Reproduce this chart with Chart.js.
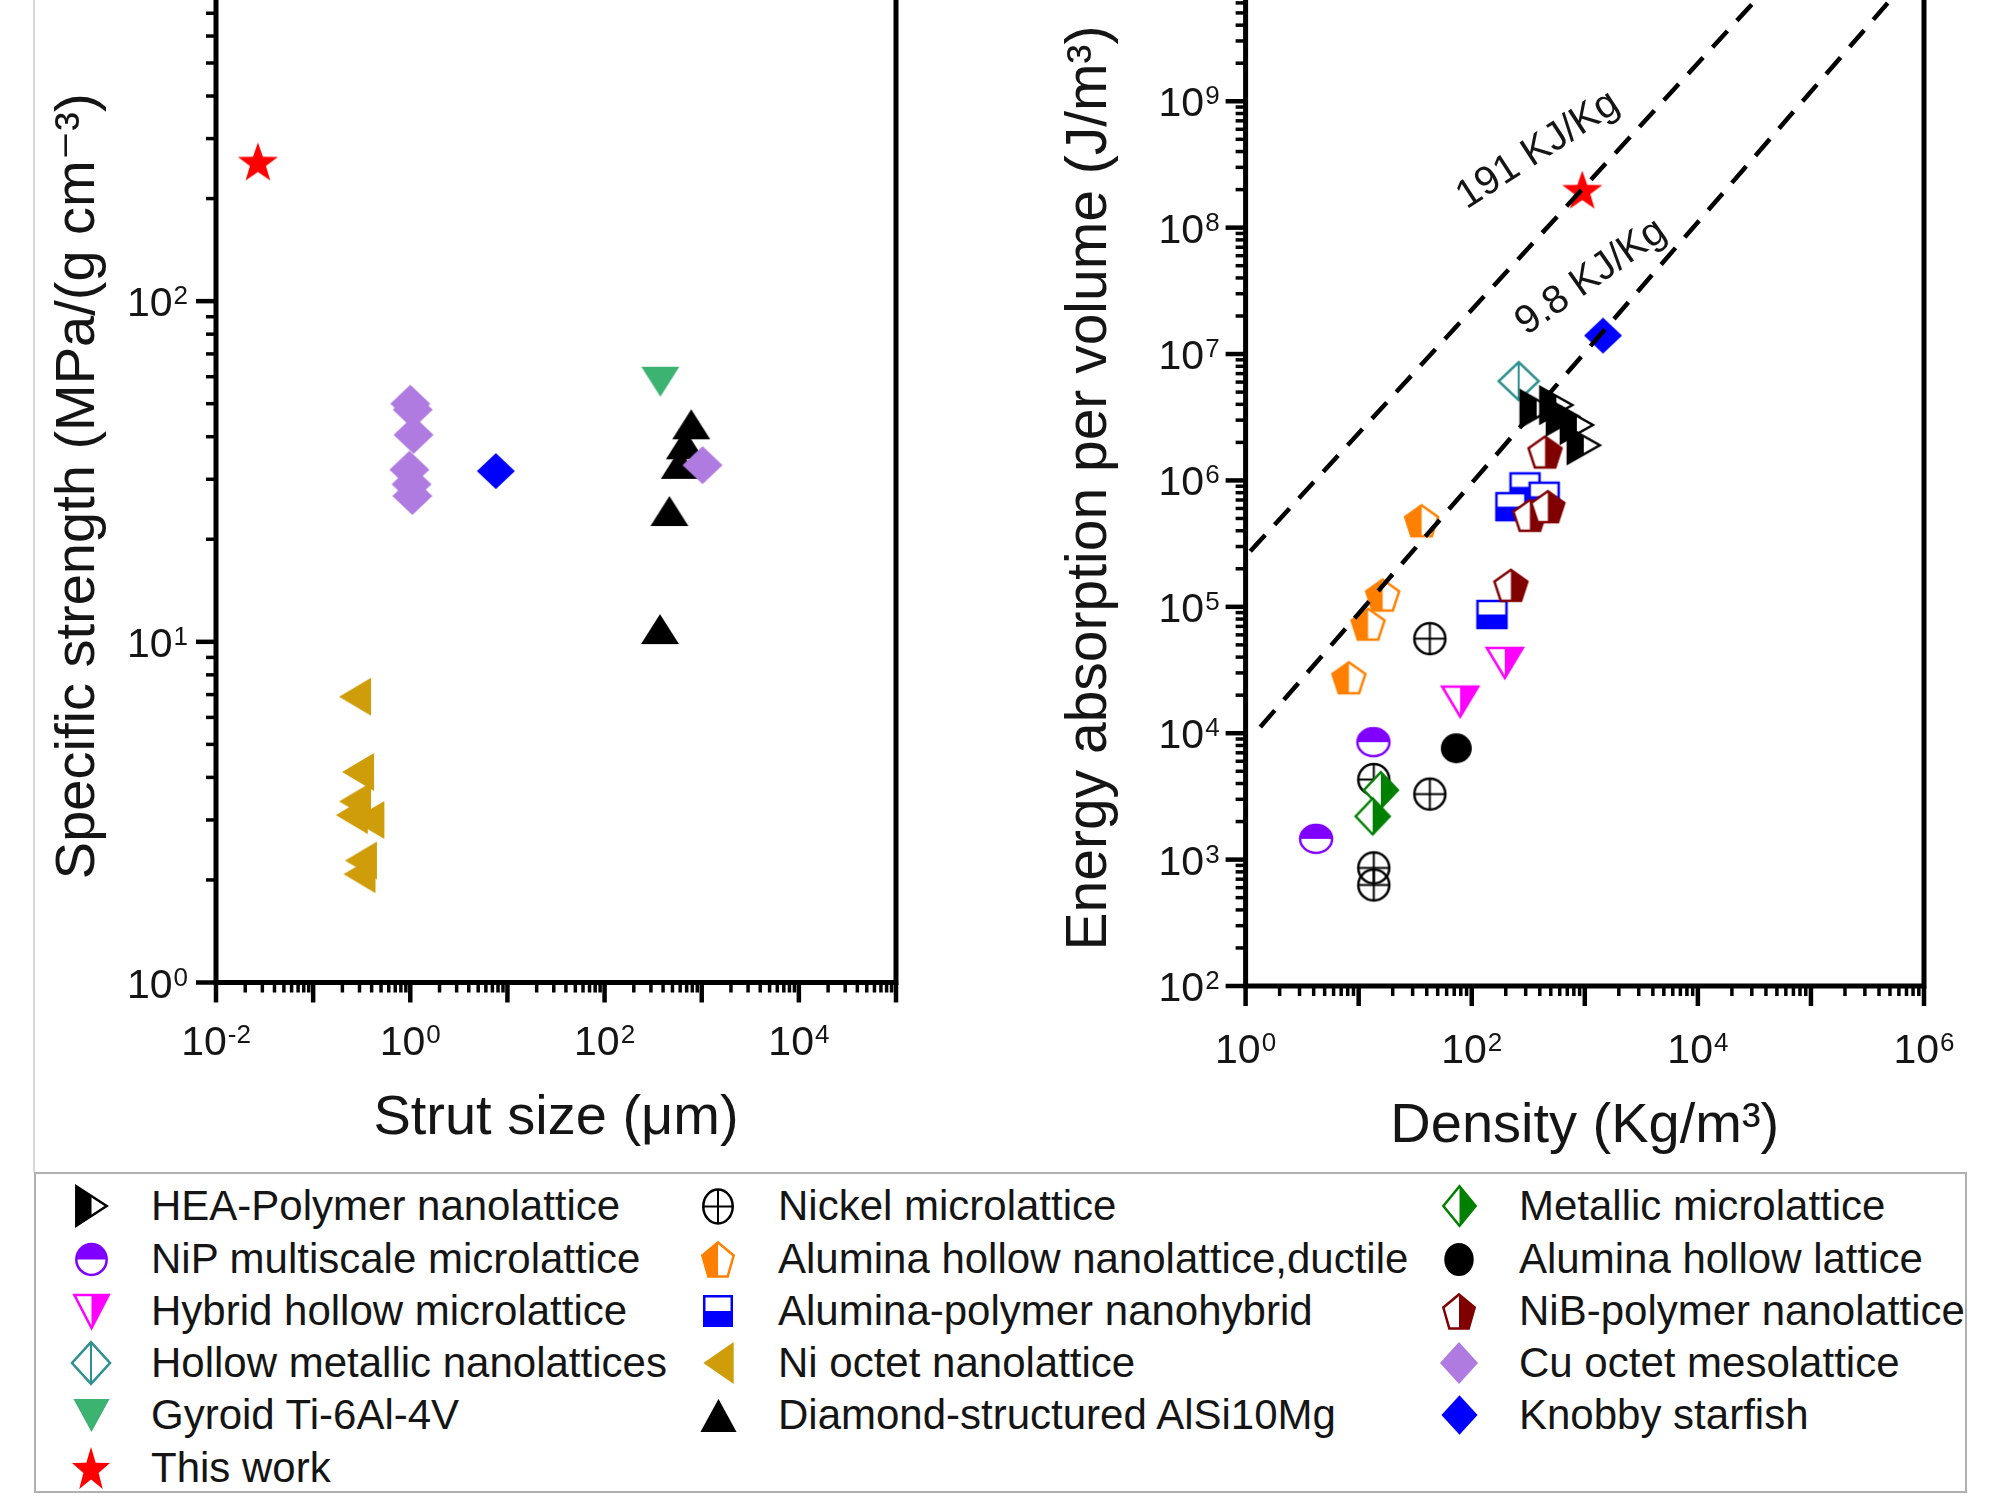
<!DOCTYPE html>
<html>
<head>
<meta charset="utf-8">
<script src="https://cdn.jsdelivr.net/npm/chart.js@4.4.1/dist/chart.umd.min.js"></script>
<style>
  body { margin: 0; width: 1993px; height: 1498px; background: #fff; position: relative; overflow: hidden;
         font-family: "Liberation Sans", Arial, sans-serif; }
  canvas.panel { position: absolute; top: -10px; }
  #edge { position: absolute; left: 33px; top: 0; height: 1172px; border-left: 2px solid #d8d8d8; }
  #legend { position: absolute; left: 34px; top: 1172px; width: 1933px; height: 321px; box-sizing: border-box;
            border: 2px solid #b0b0b0; background: #fff; }
  .lg-item { position: absolute; font-size: 42px; line-height: 52px; height: 52px; color: #151515; white-space: nowrap; }
  .lg-item canvas { position: absolute; }
</style>
</head>
<body>
<div id="edge"></div>
<canvas id="strut" class="panel" width="960" height="1170" style="left:0"></canvas>
<canvas id="energy" class="panel" width="1033" height="1170" style="left:960px"></canvas>
<div id="legend"></div>
<script>
// ---- left panel: specific strength vs strut size ----
const thisWorkStrut = [0.027], thisWorkStrength = [257];
const cuOctetStrut = [1.06, 1.0, 1.08, 0.98, 1.03, 1.05, 1020];
const cuOctetStrength = [48, 50, 40.5, 32, 29, 26.8, 33];
const knobbyStrut = [7.6], knobbyStrength = [31.7];
const gyroidStrut = [375], gyroidStrength = [58];
const diamondAlStrut = [780, 670, 595, 465, 372];
const diamondAlStrength = [43.5, 38, 33.3, 24.2, 10.9];
const niOctetStrut = [0.27, 0.29, 0.27, 0.25, 0.37, 0.31, 0.30];
const niOctetStrength = [6.9, 4.15, 3.4, 3.1, 3.0, 2.28, 2.08];

// ---- right panel: energy absorption vs density ----
const thisWorkDensity = [950], thisWorkEnergy = [2.0e8];
const knobbyDensity = [1450], knobbyEnergy = [1.4e7];
const hollowMetDensity = [260], hollowMetEnergy = [6.1e6];
const heaDensity = [375, 560, 640, 850, 980];
const heaEnergy = [3.7e6, 3.95e6, 3.2e6, 2.75e6, 1.9e6];
const nibDensity = [445, 327, 471, 222];
const nibEnergy = [1.68e6, 5.3e5, 6.2e5, 1.48e5];
const alPolymerDensity = [296, 222, 437, 151];
const alPolymerEnergy = [8.9e5, 6.2e5, 7.5e5, 8.7e4];
const alHollowNanoDensity = [36, 16.3, 12.1, 8.2];
const alHollowNanoEnergy = [4.8e5, 1.24e5, 7.3e4, 2.75e4];
const nickelDensity = [42.6, 13.6, 42.6, 13.6, 13.6];
const nickelEnergy = [5.6e4, 4.3e3, 3.3e3, 860, 630];
const hybridDensity = [196, 79], hybridEnergy = [3.6e4, 1.78e4];
const alHollowLatDensity = [73], alHollowLatEnergy = [7.6e3];
const nipDensity = [13.5, 4.2], nipEnergy = [8.5e3, 1.46e3];
const metallicDensity = [15.7, 13.3], metallicEnergy = [3.55e3, 2.2e3];

// specific energy guide lines (end points)
const guide191Density = [1.1, 5.2e4], guide191Energy = [2.75e5, 1e10];
const guide98Density = [1.35, 7.85e5], guide98Energy = [1.12e4, 1e10];
const guideLabels = ['191 KJ/Kg', '9.8 KJ/Kg'];

// tick labels (powers of ten that carry a label)
const strutTickExps = [-2, 0, 2, 4];
const strengthTickExps = [0, 1, 2];
const densityTickExps = [0, 2, 4, 6];
const energyTickExps = [2, 3, 4, 5, 6, 7, 8, 9];

const FONT = '"Liberation Sans", Arial, "DejaVu Sans", sans-serif';

// marker shapes, normalised to a [-1,1] box
function polygon(n, inner) {
  const count = inner === 1 ? n : n * 2, pts = [];
  for (let i = 0; i < count; i++) {
    const r = (inner !== 1 && i % 2) ? inner : 1;
    const a = -Math.PI / 2 + i * 2 * Math.PI / count;
    pts.push([r * Math.cos(a), r * Math.sin(a)]);
  }
  const xs = pts.map(p => p[0]), ys = pts.map(p => p[1]);
  const x0 = Math.min(...xs), x1 = Math.max(...xs), y0 = Math.min(...ys), y1 = Math.max(...ys);
  return pts.map(([x, y]) => [2 * (x - x0) / (x1 - x0) - 1, 2 * (y - y0) / (y1 - y0) - 1]);
}
const SHAPES = {
  triUp: [[0, -1], [1, 1], [-1, 1]],
  triDown: [[-1, -1], [1, -1], [0, 1]],
  triLeft: [[-1, 0], [1, -1], [1, 1]],
  triRight: [[-1, -1], [1, 0], [-1, 1]],
  diamond: [[0, -1], [1, 0], [0, 1], [-1, 0]],
  square: [[-1, -1], [1, -1], [1, 1], [-1, 1]],
  pentagon: polygon(5, 1),
  star: polygon(5, 0.4)
};

const markers = {
  hea:          { shape: 'triRight', color: '#000000', fill: 'left',   w: 32, h: 36 },
  nip:          { shape: 'circle',   color: '#8000FF', fill: 'top',    w: 32, h: 28 },
  hybrid:       { shape: 'triDown',  color: '#FF00FF', fill: 'right',  w: 36, h: 30 },
  hollowMet:    { shape: 'diamond',  color: '#2F9090', fill: 'none', extra: 'vline', w: 40, h: 38 },
  gyroid:       { shape: 'triDown',  color: '#3CB371', fill: 'full',   w: 38, h: 30 },
  star:         { shape: 'star',     color: '#FF0000', fill: 'full',   w: 40, h: 38 },
  nickel:       { shape: 'circle',   color: '#000000', fill: 'none', extra: 'plus', w: 31, h: 31 },
  alHollowNano: { shape: 'pentagon', color: '#FF8000', fill: 'left',   w: 33, h: 31 },
  alPolymer:    { shape: 'square',   color: '#0000FF', fill: 'bottom', w: 29, h: 27 },
  niOctet:      { shape: 'triLeft',  color: '#CF9D0A', fill: 'full',   w: 32, h: 38 },
  diamondAl:    { shape: 'triUp',    color: '#000000', fill: 'full',   w: 38, h: 30 },
  metallic:     { shape: 'diamond',  color: '#008000', fill: 'right',  w: 34, h: 36 },
  alHollowLat:  { shape: 'circle',   color: '#000000', fill: 'full',   w: 31, h: 30 },
  nib:          { shape: 'pentagon', color: '#800000', fill: 'right',  w: 33, h: 31 },
  cuOctet:      { shape: 'diamond',  color: '#B07BE0', fill: 'full',   w: 40, h: 38 },
  knobby:       { shape: 'diamond',  color: '#0000FF', fill: 'full',   w: 38, h: 36 }
};

function shapePath(g, shape, cx, cy, hw, hh) {
  g.beginPath();
  if (shape === 'circle') { g.ellipse(cx, cy, hw, hh, 0, 0, Math.PI * 2); return; }
  SHAPES[shape].forEach(([x, y], i) => i ? g.lineTo(cx + x * hw, cy + y * hh) : g.moveTo(cx + x * hw, cy + y * hh));
  g.closePath();
}

function makeMarker(m, sx = 1, sy = 1) {
  const lw = 2.5, hw = m.w * sx / 2, hh = m.h * sy / 2;
  const c = document.createElement('canvas');
  c.width = Math.ceil(hw * 2 + 8); c.height = Math.ceil(hh * 2 + 8);
  const g = c.getContext('2d');
  const cx = c.width / 2, cy = c.height / 2;
  shapePath(g, m.shape, cx, cy, hw, hh);
  if (m.fill === 'full') { g.fillStyle = m.color; g.fill(); return c; }
  if (m.fill !== 'none') {
    g.fillStyle = '#fff'; g.fill();
    g.save();
    g.beginPath();
    if (m.fill === 'left') g.rect(0, 0, cx, c.height);
    else if (m.fill === 'right') g.rect(cx, 0, c.width - cx, c.height);
    else if (m.fill === 'top') g.rect(0, 0, c.width, cy);
    else g.rect(0, cy, c.width, c.height - cy);
    g.clip();
    shapePath(g, m.shape, cx, cy, hw, hh);
    g.fillStyle = m.color; g.fill();
    g.restore();
  }
  g.strokeStyle = m.color;
  if (m.extra) {
    g.lineWidth = 2;
    g.beginPath();
    g.moveTo(cx, cy - hh); g.lineTo(cx, cy + hh);
    if (m.extra === 'plus') { g.moveTo(cx - hw, cy); g.lineTo(cx + hw, cy); }
    g.stroke();
  }
  shapePath(g, m.shape, cx, cy, hw, hh);
  g.lineWidth = lw; g.lineJoin = 'miter'; g.stroke();
  return c;
}

const pts = (xs, ys) => xs.map((x, i) => ({ x, y: ys[i] }));
const series = (label, key, xs, ys) => ({
  label, data: pts(xs, ys), pointStyle: makeMarker(markers[key]), pointRadius: 15, showLine: false
});
const guide = (label, xs, ys) => ({
  label, data: pts(xs, ys), showLine: true, pointRadius: 0, borderColor: '#000',
  borderWidth: 4.5, borderDash: [22, 14], borderCapStyle: 'butt'
});

function logTicks(min, max) {
  const out = [];
  for (let e = Math.floor(Math.log10(min)); e <= Math.ceil(Math.log10(max)); e++) {
    for (let k = 1; k < 10; k++) {
      const v = k * Math.pow(10, e);
      if (v >= min * 0.999 && v <= max * 1.001) out.push({ value: v });
    }
  }
  return out;
}
const isDecade = v => { const e = Math.log10(v); return Math.abs(e - Math.round(e)) < 1e-6; };

function logAxis(cfg) {
  const horizontal = cfg.position === 'bottom';
  return {
    type: 'logarithmic', position: cfg.position, min: cfg.min, max: cfg.max,
    grid: { display: false, drawTicks: false },
    border: { display: false },
    afterBuildTicks: s => { s.ticks = logTicks(cfg.min, cfg.max); },
    afterFit: s => {
      if (horizontal) s.height = cfg.size; else s.width = cfg.size;
      s.paddingTop = s.paddingBottom = s.paddingLeft = s.paddingRight = 0;
    },
    ticks: { display: false },
    exps: cfg.exps,
    title: {
      display: true, text: cfg.title, color: '#151515', font: { family: FONT, size: cfg.titleSize || 56 },
      padding: horizontal ? { top: 0, bottom: cfg.titlePad } : { top: cfg.titlePad, bottom: 0 }
    }
  };
}

// "10" with a raised exponent, anchored by its digit centre
function powerLabel(ctx, exp, x, y, align) {
  const base = '10', sup = String(exp);
  ctx.font = '41px ' + FONT;
  const wb = ctx.measureText(base).width;
  ctx.font = '26px ' + FONT;
  const ws = ctx.measureText(sup).width + 1;
  const total = wb + ws;
  const left = align === 'right' ? x - total : x - total / 2;
  const baseline = y + 15;
  ctx.textAlign = 'left'; ctx.textBaseline = 'alphabetic';
  ctx.font = '41px ' + FONT;
  ctx.fillText(base, left, baseline);
  ctx.font = '26px ' + FONT;
  ctx.fillText(sup, left + wb + 1, baseline - 12);
}

// frame, outward tick marks (long at decades) and power-of-ten labels
const axisDecor = {
  id: 'axisDecor',
  beforeDatasetsDraw(chart, args, opts) {
    const { ctx, chartArea: a, scales: { x, y } } = chart;
    ctx.save();
    ctx.strokeStyle = '#000';
    ctx.lineCap = 'butt';
    x.ticks.forEach(t => {
      const p = x.getPixelForValue(t.value), major = isDecade(t.value);
      ctx.lineWidth = major ? 4.5 : 3.5;
      ctx.beginPath(); ctx.moveTo(p, a.bottom); ctx.lineTo(p, a.bottom + (major ? 20 : 10)); ctx.stroke();
    });
    y.ticks.forEach(t => {
      const p = y.getPixelForValue(t.value), major = isDecade(t.value);
      ctx.lineWidth = major ? 4.5 : 3.5;
      ctx.beginPath(); ctx.moveTo(a.left, p); ctx.lineTo(a.left - (major ? 20 : 10), p); ctx.stroke();
    });
    ctx.lineWidth = 5;
    ctx.beginPath();
    ctx.moveTo(a.left, a.top - 5); ctx.lineTo(a.left, a.bottom);
    ctx.lineTo(a.right, a.bottom); ctx.lineTo(a.right, a.top - 5);
    ctx.stroke();
    ctx.fillStyle = '#151515';
    x.options.exps.forEach(e => powerLabel(ctx, e, x.getPixelForValue(Math.pow(10, e)), a.bottom + opts.xLabelDrop, 'center'));
    y.options.exps.forEach(e => powerLabel(ctx, e, a.left - opts.yLabelGap, y.getPixelForValue(Math.pow(10, e)), 'right'));
    ctx.restore();
  }
};

const guideText = {
  id: 'guideText',
  afterDatasetsDraw(chart, args, opts) {
    if (!opts.items) return;
    const { ctx, scales: { x, y } } = chart;
    ctx.save();
    ctx.font = '40px ' + FONT;
    ctx.fillStyle = '#151515'; ctx.textAlign = 'center'; ctx.textBaseline = 'middle';
    opts.items.forEach(it => {
      ctx.save();
      ctx.translate(x.getPixelForValue(it.at[0]), y.getPixelForValue(it.at[1]));
      ctx.rotate(-it.angle * Math.PI / 180);
      ctx.fillText(it.text, 0, 0);
      ctx.restore();
    });
    ctx.restore();
  }
};

const common = { responsive: false, animation: false, events: [] };
const hidden = { legend: { display: false }, tooltip: { enabled: false } };

new Chart(document.getElementById('strut'), {
  type: 'scatter',
  data: {
    datasets: [
      series('This work', 'star', thisWorkStrut, thisWorkStrength),
      series('Knobby starfish', 'knobby', knobbyStrut, knobbyStrength),
      series('Cu octet mesolattice', 'cuOctet', cuOctetStrut, cuOctetStrength),
      series('Gyroid Ti-6Al-4V', 'gyroid', gyroidStrut, gyroidStrength),
      series('Diamond-structured AlSi10Mg', 'diamondAl', diamondAlStrut, diamondAlStrength),
      series('Ni octet nanolattice', 'niOctet', niOctetStrut, niOctetStrength)
    ]
  },
  options: {
    ...common,
    layout: { autoPadding: false, padding: { left: 0, right: 64, top: 0, bottom: 0 } },
    plugins: { ...hidden, axisDecor: { xLabelDrop: 57, yLabelGap: 28 } },
    scales: {
      x: logAxis({ position: 'bottom', min: 0.01, max: 1e5, size: 177.5, titlePad: 8,
                   exps: strutTickExps, title: 'Strut size (\u03BCm)' }),
      y: logAxis({ position: 'left', min: 1, max: 819, size: 216, titlePad: 45,
                   exps: strengthTickExps, title: 'Specific strength (MPa/(g cm\u207B\u00B3)' })
    }
  },
  plugins: [axisDecor]
});

new Chart(document.getElementById('energy'), {
  type: 'scatter',
  data: {
    datasets: [
      guide(guideLabels[0], guide191Density, guide191Energy),
      guide(guideLabels[1], guide98Density, guide98Energy),
      series('This work', 'star', thisWorkDensity, thisWorkEnergy),
      series('Knobby starfish', 'knobby', knobbyDensity, knobbyEnergy),
      series('HEA-Polymer nanolattice', 'hea', heaDensity, heaEnergy),
      series('Hollow metallic nanolattices', 'hollowMet', hollowMetDensity, hollowMetEnergy),
      series('NiB-polymer nanolattice', 'nib', nibDensity, nibEnergy),
      series('Alumina-polymer nanohybrid', 'alPolymer', alPolymerDensity, alPolymerEnergy),
      series('Alumina hollow nanolattice,ductile', 'alHollowNano', alHollowNanoDensity, alHollowNanoEnergy),
      series('Hybrid hollow microlattice', 'hybrid', hybridDensity, hybridEnergy),
      series('Alumina hollow lattice', 'alHollowLat', alHollowLatDensity, alHollowLatEnergy),
      series('Metallic microlattice', 'metallic', metallicDensity, metallicEnergy),
      series('Nickel microlattice', 'nickel', nickelDensity, nickelEnergy),
      series('NiP multiscale microlattice', 'nip', nipDensity, nipEnergy)
    ]
  },
  options: {
    ...common,
    layout: { autoPadding: false, padding: { left: 0, right: 69, top: 0, bottom: 0 } },
    plugins: {
      ...hidden,
      axisDecor: { xLabelDrop: 62, yLabelGap: 26 },
      guideText: { items: [
        { text: guideLabels[0], at: [385, 4.1e8], angle: 33 },
        { text: guideLabels[1], at: [1135, 4.06e7], angle: 35 }
      ] }
    },
    scales: {
      x: logAxis({ position: 'bottom', min: 1, max: 1e6, size: 174, titlePad: 0,
                   exps: densityTickExps, title: 'Density (Kg/m\u00B3)' }),
      y: logAxis({ position: 'left', min: 100, max: 7.59e9, size: 285.6, titlePad: 96, titleSize: 57,
                   exps: energyTickExps, title: 'Energy absorption per volume (J/m\u00B3)' })
    }
  },
  plugins: [axisDecor, guideText]
});

// ---- legend (three columns) ----
const legendColumns = [
  [['HEA-Polymer nanolattice', 'hea'], ['NiP multiscale microlattice', 'nip'], ['Hybrid hollow microlattice', 'hybrid'],
   ['Hollow metallic nanolattices', 'hollowMet'], ['Gyroid Ti-6Al-4V', 'gyroid'], ['This work', 'star']],
  [['Nickel microlattice', 'nickel'], ['Alumina hollow nanolattice,ductile', 'alHollowNano'],
   ['Alumina-polymer nanohybrid', 'alPolymer'], ['Ni octet nanolattice', 'niOctet'], ['Diamond-structured AlSi10Mg', 'diamondAl']],
  [['Metallic microlattice', 'metallic'], ['Alumina hollow lattice', 'alHollowLat'], ['NiB-polymer nanolattice', 'nib'],
   ['Cu octet mesolattice', 'cuOctet'], ['Knobby starfish', 'knobby']]
];
const legendColX = [55, 682, 1423];
const legendRowY = [6, 59, 111, 163, 215, 268];
const legend = document.getElementById('legend');
legendColumns.forEach((col, ci) => col.forEach(([text, key], ri) => {
  const item = document.createElement('div');
  item.className = 'lg-item';
  item.style.left = legendColX[ci] + 'px';
  item.style.top = legendRowY[ri] + 'px';
  const icon = makeMarker(markers[key], 0.95, 1.1);
  icon.style.left = (-icon.width / 2) + 'px';
  icon.style.top = (26 - icon.height / 2) + 'px';
  const span = document.createElement('span');
  span.textContent = text;
  span.style.position = 'absolute';
  span.style.left = '60px';
  item.appendChild(icon);
  item.appendChild(span);
  legend.appendChild(item);
}));
</script>
</body>
</html>
